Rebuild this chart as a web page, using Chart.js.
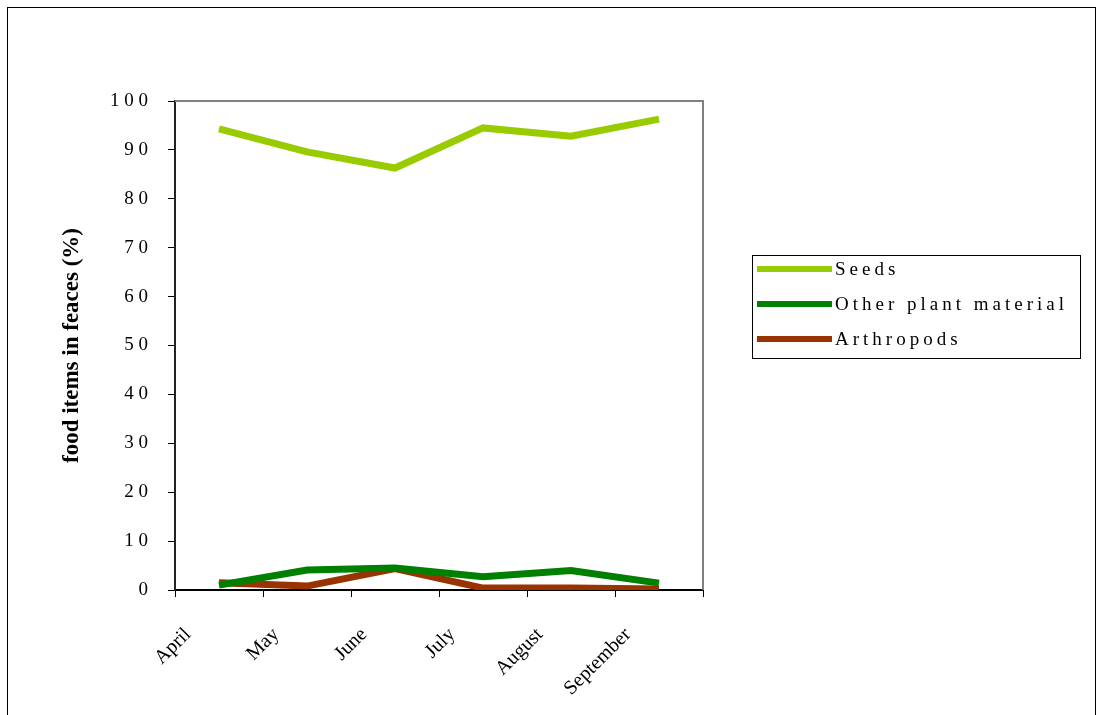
<!DOCTYPE html>
<html>
<head>
<meta charset="utf-8">
<script src="https://cdn.jsdelivr.net/npm/chart.js@4/dist/chart.umd.min.js"></script>
<style>
	html, body { margin: 0; padding: 0; background: #fff; }
	#wrap { width: 1102px; height: 715px; position: relative; }
</style>
</head>
<body>
<div id="wrap"><canvas id="dietChart" width="1102" height="715"></canvas></div>
<script>
// food items found in faeces, per month (%)
var months = ['April', 'May', 'June', 'July', 'August', 'September'];
var seeds = [94.3, 89.6, 86.3, 94.5, 92.8, 96.3];
var otherPlant = [1.0, 4.1, 4.5, 2.7, 4.0, 1.4];
var arthropods = [1.5, 0.8, 4.4, 0.4, 0.4, 0.2];
var seriesNames = ['Seeds', 'Other plant material', 'Arthropods'];
var seriesColors = ['#99cc00', '#008000', '#993300'];

var serif = "'Liberation Serif', 'Times New Roman', serif";

// outer frame, gray top/right plot border, y title and the boxed legend
var framePlugin = {
	id: 'frame',
	beforeDraw: function(chart) {
		var c = chart.ctx;
		c.save();
		c.fillStyle = '#fff';
		c.fillRect(0, 0, chart.width, chart.height);
		c.strokeStyle = '#000';
		c.lineWidth = 1;
		c.strokeRect(7.5, 7.5, 1088, 730);
		c.restore();
	},
	afterDraw: function(chart) {
		var c = chart.ctx;
		var a = chart.chartArea;
		c.save();
		c.strokeStyle = '#808080';
		c.lineWidth = 2;
		c.beginPath();
		c.moveTo(a.left, a.top);
		c.lineTo(a.right, a.top);
		c.lineTo(a.right, a.bottom);
		c.stroke();

		// y axis title
		c.fillStyle = '#000';
		c.font = 'bold 23px ' + serif;
		c.textAlign = 'center';
		c.textBaseline = 'middle';
		c.translate(72, (a.top + a.bottom) / 2);
		c.rotate(-Math.PI / 2);
		c.fillText('food items in feaces (%)', 0, 0);
		c.restore();

		// legend
		c.save();
		c.strokeStyle = '#000';
		c.lineWidth = 1;
		c.strokeRect(752.5, 255.5, 328, 103);
		c.font = '19px ' + serif;
		c.textAlign = 'left';
		c.textBaseline = 'middle';
		c.letterSpacing = '4px';
		chart.data.datasets.forEach(function(ds, i) {
			var y = 269 + i * 35;
			c.strokeStyle = ds.borderColor;
			c.lineWidth = 6;
			c.beginPath();
			c.moveTo(757, y);
			c.lineTo(832, y);
			c.stroke();
			c.fillStyle = '#000';
			c.fillText(ds.label, 835, y + 1);
		});
		c.restore();
	}
};

var datasets = [seeds, otherPlant, arthropods].map(function(vals, i) {
	return {
		label: seriesNames[i],
		data: vals,
		borderColor: seriesColors[i],
		backgroundColor: seriesColors[i],
		borderWidth: 7,
		pointRadius: 0,
		tension: 0,
		fill: false
	};
});

new Chart(document.getElementById('dietChart'), {
	type: 'line',
	data: { labels: months, datasets: datasets },
	options: {
		responsive: false,
		animation: false,
		layout: { padding: { left: 0, top: 101, right: 399, bottom: 0 } },
		plugins: {
			legend: { display: false },
			tooltip: { enabled: false }
		},
		scales: {
			x: {
				offset: true,
				grid: { display: true, offset: true, drawOnChartArea: false, drawTicks: true, tickLength: 7, color: '#000' },
				border: { color: '#000', width: 2 },
				ticks: {
					color: '#000',
					font: { family: serif, size: 20 },
					minRotation: 45,
					maxRotation: 45,
					padding: 26,
					labelOffset: -31
				},
				afterFit: function(scale) { scale.height = 125; }
			},
			y: {
				min: 0,
				max: 100,
				grid: { display: true, drawOnChartArea: false, drawTicks: true, tickLength: 7, color: '#000' },
				border: { color: '#222', width: 2 },
				ticks: {
					stepSize: 10,
					color: '#000',
					font: { family: serif, size: 19 },
					padding: 20,
					callback: function(v) { return String(v).split('').join('\u2005'); }
				},
				afterFit: function(scale) { scale.width = 175; }
			}
		}
	},
	plugins: [framePlugin]
});
</script>
</body>
</html>
